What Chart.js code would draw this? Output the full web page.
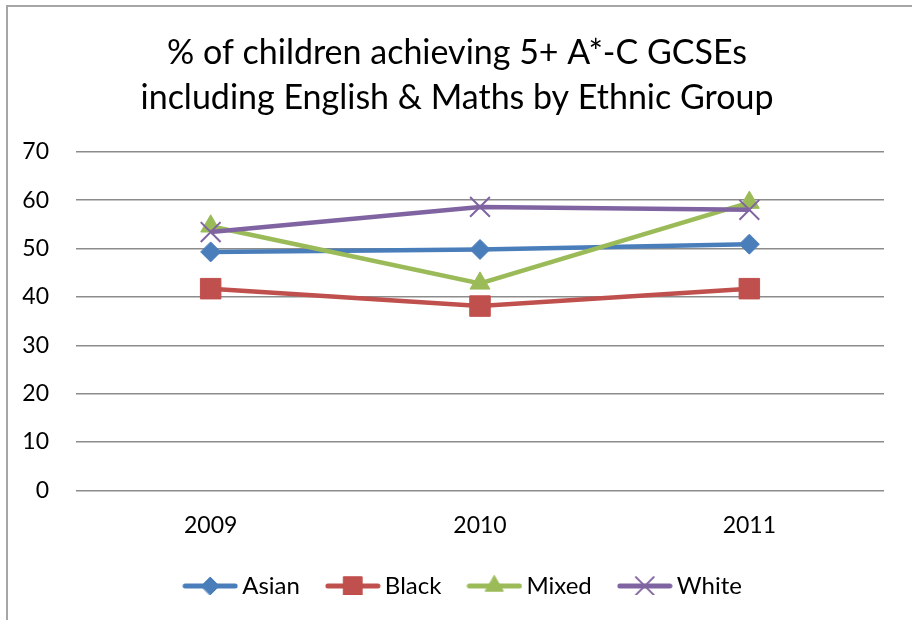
<!DOCTYPE html>
<html>
<head>
<meta charset="utf-8">
<title>GCSE attainment by ethnic group</title>
<script src="https://cdn.jsdelivr.net/npm/chart.js@4.4.1/dist/chart.umd.min.js"></script>
<style>
  html, body { margin: 0; padding: 0; background: #fff; }
  #frame {
    position: absolute; left: 6px; top: 5px; width: 906px; height: 615px;
    border-left: 2px solid #a6a6a6; border-top: 2px solid #a6a6a6;
  }
  #chart-wrap { position: absolute; left: 0; top: 0; width: 912px; height: 620px; }
</style>
</head>
<body>
<div id="frame"></div>
<div id="chart-wrap"><canvas id="chart-goes-here" width="912" height="620"></canvas></div>
<script>
// percentages per year, one list per ethnic group
const years = ['2009', '2010', '2011'];
const asian = [49.3, 49.8, 50.9];
const black = [41.7, 38.1, 41.7];
const mixed = [54.6, 42.8, 59.5];
const white = [53.4, 58.6, 58.0];

const yMin = 0;
const yMax = 70;
const yStep = 10;

const titleLines = ['% of children achieving 5+ A*-C GCSEs', 'including English & Maths by Ethnic Group'];
const FONT = 'Lato, "Open Sans", sans-serif';

function series(label, data, color, style, radius, borderW, order) {
    return {
        label: label,
        data: data,
        borderColor: color,
        backgroundColor: color,
        borderWidth: 4.5,
        tension: 0,
        pointStyle: style,
        pointRadius: radius,
        pointHoverRadius: radius,
        pointBackgroundColor: color,
        pointBorderColor: color,
        pointBorderWidth: borderW,
        order: order,
    };
}

const datasets = [
    series('Asian', asian, '#4a7ebb', 'rectRot', 10, 1, 3),
    series('Black', black, '#c0504d', 'rect', 14.5, 1, 2),
    series('Mixed', mixed, '#9bbb59', 'triangle', 11.5, 1, 1),
    series('White', white, '#8064a2', 'crossRot', 14, 2, 0),
];

// small line-with-marker swatch for the legend
function legendIcon(ds) {
    const c = document.createElement('canvas');
    c.width = 56;
    c.height = 26;
    const ctx = c.getContext('2d');
    ctx.strokeStyle = ds.borderColor;
    ctx.lineWidth = 5;
    ctx.lineCap = 'round';
    ctx.beginPath();
    ctx.moveTo(3, 13);
    ctx.lineTo(53, 13);
    ctx.stroke();
    ctx.fillStyle = ds.pointBackgroundColor;
    ctx.strokeStyle = ds.pointBorderColor;
    ctx.lineWidth = ds.pointBorderWidth;
    Chart.helpers.drawPoint(ctx, {
        pointStyle: ds.pointStyle,
        radius: ds.pointRadius * 0.9,
        rotation: 0,
        borderWidth: ds.pointBorderWidth,
    }, 28, 13);
    return c;
}

// nudge title and legend to sit where they belong
const shiftBoxes = {
    id: 'shiftBoxes',
    afterLayout(chart) {
        chart.titleBlock.left += 11;
        chart.titleBlock.right += 11;
        chart.legend.left += 20;
        chart.legend.right += 20;
        chart.legend.top -= 19;
        chart.legend.bottom -= 19;
    }
};

const config = {
    type: 'line',
    data: { labels: years, datasets: datasets },
    options: {
        responsive: false,
        animation: false,
        layout: { padding: { left: 8, right: 28, top: 0, bottom: 6 } },
        scales: {
            x: {
                offset: true,
                grid: { display: false, drawTicks: false },
                border: { display: false },
                ticks: { color: '#000', padding: 21, font: { family: FONT, size: 23 } },
            },
            y: {
                min: yMin,
                max: yMax,
                grid: { color: '#8c8c8c', lineWidth: 1.5, drawTicks: false },
                border: { display: false },
                ticks: { stepSize: yStep, color: '#000', padding: 27, font: { family: FONT, size: 23 } },
                afterFit(scale) { scale.width = 68; },
            },
        },
        plugins: {
            title: {
                display: true,
                text: titleLines,
                color: '#000',
                font: { family: FONT, size: 34, weight: 'normal', lineHeight: 1.32 },
                padding: { top: 31, bottom: 31 },
            },
            legend: {
                position: 'bottom',
                maxHeight: 54,
                labels: {
                    color: '#000',
                    font: { family: FONT, size: 24 },
                    usePointStyle: true,
                    pointStyleWidth: 40,
                    padding: 33,
                    generateLabels(chart) {
                        return chart.data.datasets.map((ds, i) => ({
                            text: ds.label,
                            pointStyle: legendIcon(ds),
                            fillStyle: ds.borderColor,
                            strokeStyle: ds.borderColor,
                            lineWidth: 0,
                            hidden: false,
                            datasetIndex: i,
                            fontColor: '#000',
                        }));
                    },
                },
            },
            tooltip: { enabled: false },
        },
    },
    plugins: [shiftBoxes],
};

const myChart = new Chart(document.getElementById('chart-goes-here'), config);
</script>
</body>
</html>
